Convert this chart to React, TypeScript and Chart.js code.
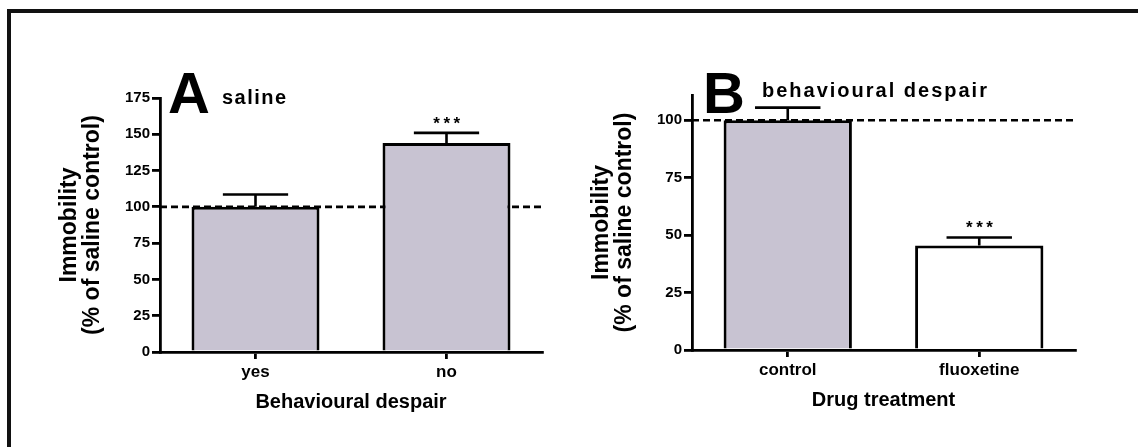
import React, { useEffect, useRef } from 'react';
import { Chart, registerables } from 'chart.js';

Chart.register(...registerables);

// ---------- data ----------
const categoriesA: string[] = ['yes', 'no'];
const meansA: number[] = [100, 144];
const semA: number[] = [8.5, 7];
const sigA: string[] = ['', '***'];
const ticksA: number[] = [0, 25, 50, 75, 100, 125, 150, 175];
const yMaxA = 175;

const categoriesB: string[] = ['control', 'fluoxetine'];
const meansB: number[] = [100, 45.5];
const semB: number[] = [5.5, 3.5];
const sigB: string[] = ['', '***'];
const ticksB: number[] = [0, 25, 50, 75, 100];
const yMaxB = 111;

const referenceLevel = 100;

const GREY = '#c8c3d2';
const WHITE = '#ffffff';
const fillsA = [GREY, GREY];
const fillsB = [GREY, WHITE];

const FONT = "'Liberation Sans', Arial, Helvetica, sans-serif";

function makeExtras(opts: any) {
  return {
    id: 'extras',
    beforeDatasetsDraw(chart: any) {
      const { ctx, chartArea, scales } = chart;
      const y = scales.y.getPixelForValue(referenceLevel);
      ctx.save();
      ctx.strokeStyle = '#000';
      ctx.lineWidth = 2.6;
      ctx.setLineDash([7, 4]);
      ctx.beginPath();
      ctx.moveTo(chartArea.left, y);
      ctx.lineTo(chartArea.right, y);
      ctx.stroke();
      ctx.restore();
    },
    afterDatasetsDraw(chart: any) {
      const { ctx, chartArea, scales } = chart;
      const meta = chart.getDatasetMeta(0);
      ctx.save();
      ctx.strokeStyle = '#000';
      ctx.lineWidth = 2.6;
      meta.data.forEach((bar: any, i: number) => {
        const x = bar.x;
        const w = bar.width;
        const yTop = scales.y.getPixelForValue(opts.means[i]);
        const yErr = scales.y.getPixelForValue(opts.means[i] + opts.sem[i]);
        ctx.beginPath();
        ctx.moveTo(x, yTop);
        ctx.lineTo(x, yErr);
        ctx.moveTo(x - w * 0.255, yErr);
        ctx.lineTo(x + w * 0.255, yErr);
        ctx.stroke();
        if (opts.sig[i]) {
          ctx.fillStyle = '#000';
          ctx.font = `bold 17px ${FONT}`;
          (ctx as any).letterSpacing = '3.5px';
          ctx.textAlign = 'center';
          ctx.textBaseline = 'alphabetic';
          ctx.fillText(opts.sig[i], x + 2, yErr - 4);
          (ctx as any).letterSpacing = '0px';
        }
      });
      // panel letter and subtitle
      ctx.fillStyle = '#000';
      ctx.textAlign = 'left';
      ctx.textBaseline = 'alphabetic';
      ctx.font = `bold 58px ${FONT}`;
      ctx.fillText(opts.letter, chartArea.left + opts.letterDx, chartArea.top + opts.letterDy);
      ctx.font = `bold ${opts.subSize}px ${FONT}`;
      (ctx as any).letterSpacing = opts.subSpacing;
      ctx.fillText(opts.subtitle, chartArea.left + opts.subDx, chartArea.top + opts.subDy);
      (ctx as any).letterSpacing = '0px';
      ctx.restore();
    },
  };
}

function buildConfig(p: any) {
  return {
    type: 'bar',
    data: {
      labels: p.categories,
      datasets: [
        {
          data: p.means,
          backgroundColor: p.fills,
          borderColor: '#000',
          borderWidth: 3,
          borderSkipped: 'bottom',
          barPercentage: 0.67,
          categoryPercentage: 1,
        },
      ],
    },
    options: {
      animation: false,
      responsive: false,
      maintainAspectRatio: false,
      layout: { padding: p.padding },
      plugins: { legend: { display: false }, tooltip: { enabled: false }, title: { display: false } },
      scales: {
        x: {
          type: 'category',
          offset: true,
          grid: {
            display: true,
            drawOnChartArea: false,
            drawTicks: true,
            tickLength: 7,
            offset: false,
            color: '#000',
            lineWidth: 2.8,
          },
          border: { display: true, color: '#000', width: 2.8 },
          ticks: { color: '#000', font: { family: FONT, size: 17, weight: 'bold' }, padding: 3 },
          title: {
            display: true,
            text: p.xTitle,
            color: '#000',
            font: { family: FONT, size: 20, weight: 'bold', lineHeight: 1.2 },
            padding: { top: 0, bottom: 0 },
          },
          afterFit: (s: any) => {
            s.height = 62;
          },
        },
        y: {
          type: 'linear',
          min: 0,
          max: p.yMax,
          afterBuildTicks: (s: any) => {
            s.ticks = p.ticks.map((v: number) => ({ value: v }));
          },
          grid: {
            display: true,
            drawOnChartArea: false,
            drawTicks: true,
            tickLength: 8,
            color: '#000',
            lineWidth: 2.8,
          },
          border: { display: true, color: '#000', width: 2.8 },
          ticks: {
            color: '#000',
            font: { family: FONT, size: 15, weight: 'bold' },
            padding: 2,
            autoSkip: false,
          },
          title: {
            display: true,
            text: ['Immobility', '(% of saline control)'],
            color: '#000',
            font: { family: FONT, size: 23, weight: 'bold', lineHeight: 1.0 },
            padding: { top: 58, bottom: 0 },
          },
          afterFit: (s: any) => {
            s.width = 160;
          },
        },
      },
    },
    plugins: [makeExtras(p)],
  };
}

function Panel(props: { left: number; width: number; cfg: any }) {
  const ref = useRef<HTMLCanvasElement | null>(null);
  useEffect(() => {
    if (!ref.current) return;
    const chart = new Chart(ref.current, buildConfig(props.cfg) as any);
    return () => chart.destroy();
  }, []);
  return (
    <canvas
      ref={ref}
      width={props.width}
      height={447}
      style={{ position: 'absolute', left: props.left, top: 0, width: props.width, height: 447 }}
    />
  );
}

const panelA = {
  categories: categoriesA,
  means: meansA,
  sem: semA,
  sig: sigA,
  ticks: ticksA,
  yMax: yMaxA,
  fills: fillsA,
  xTitle: 'Behavioural despair',
  padding: { left: 0, right: 6, top: 98, bottom: 33 },
  letter: 'A',
  letterDx: 8,
  letterDy: 15,
  subtitle: 'saline',
  subSize: 20,
  subSpacing: '1.5px',
  subDx: 62,
  subDy: 6,
};

const panelB = {
  categories: categoriesB,
  means: meansB,
  sem: semB,
  sig: sigB,
  ticks: ticksB,
  yMax: yMaxB,
  fills: fillsB,
  xTitle: 'Drug treatment',
  padding: { left: 0, right: 63, top: 95, bottom: 35 },
  letter: 'B',
  letterDx: 11,
  letterDy: 18,
  subtitle: 'behavioural despair',
  subSize: 20,
  subSpacing: '2px',
  subDx: 70,
  subDy: 2,
};

export default function App() {
  return (
    <div
      style={{
        position: 'fixed',
        left: 0,
        top: 0,
        width: 1138,
        height: 447,
        background: '#fff',
        overflow: 'hidden',
      }}
    >
      <div
        style={{
          position: 'absolute',
          left: 7,
          top: 9,
          right: 0,
          bottom: 0,
          borderTop: '4px solid #111',
          borderLeft: '4px solid #111',
        }}
      />
      <Panel left={0} width={548} cfg={panelA} />
      <Panel left={532} width={606} cfg={panelB} />
    </div>
  );
}
